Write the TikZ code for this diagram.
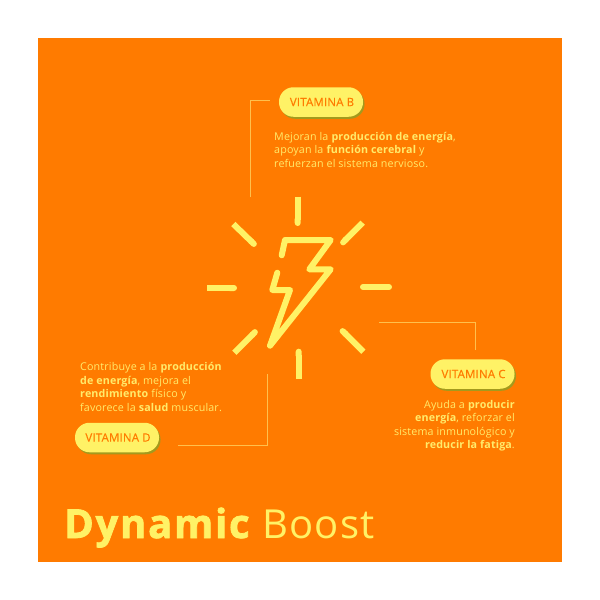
\documentclass[tikz,border=0pt]{standalone}
\usepackage{fontspec}
\setmainfont{Open Sans}[LetterSpace=1.5]
\newfontfamily\titlefont{Open Sans}[LetterSpace=2.6,BoldFeatures={FakeBold=1.8,LetterSpace=4.4}]
\newfontfamily\pillfont{Open Sans}[LetterSpace=1.5,FakeBold=0.4]
\usetikzlibrary{arrows.meta,positioning}
\definecolor{bgorange}{HTML}{FF7B00}
\definecolor{sunyellow}{HTML}{FFF266}
\definecolor{pillshadow}{HTML}{A39A1E}
\definecolor{bodyyellow}{HTML}{FFEB6B}
\definecolor{wireyellow}{HTML}{FFC04D}
\tikzset{
  ray/.style={draw=sunyellow,line width=6pt},
  bolt/.style={draw=sunyellow,line width=6pt,line join=round,line cap=round},
  wire/.style={draw=wireyellow,line width=0.8pt},
  pill/.style={fill=sunyellow,rounded corners=14.5pt,minimum width=84pt,minimum height=29.5pt,inner sep=0pt,text=bgorange,font=\pillfont\fontsize{11.5}{13}\selectfont},
  shade/.style={fill=pillshadow,rounded corners=14.5pt,minimum width=84pt,minimum height=29.5pt,inner sep=0pt},
  body/.style={text=bodyyellow,inner sep=0pt,font=\fontsize{10.7}{13.4}\selectfont},
}
\def\drawPill#1#2#3#4{
\node[shade] (#1s) at (#3+1.5,#4+2) {};
\node[pill] (#1) at (#3,#4) {\hspace*{2pt}#2};
}
\begin{document}
\begin{tikzpicture}[x=1pt,y=-1pt]
  \useasboundingbox (0,0) rectangle (600,600);
  \fill[white] (0,0) rectangle (600,600);
  \fill[bgorange] (38,38) rectangle (562,562);

  \draw[ray,-{Round Cap[]}] (297.7,196.7) -- (297.7,226);
  \draw[ray,-{Round Cap[]}] (207.3,288) -- (237,288);
  \draw[ray,-{Round Cap[]}] (298.7,379) -- (298.7,348.7);
  \draw[ray,-{Round Cap[]}] (233.3,224) -- (256,246);
  \draw[ray,-{Round Cap[]}] (362.7,222.7) -- (341,244.5);
  \draw[ray,-{Round Cap[]}] (234.3,352.7) -- (257,330);
  \draw[ray,-{Round Cap[]}] (363.3,351.7) -- (340.5,329);
  \draw[ray,line cap=round] (363,287) -- (389,287);

  \draw[bolt] (281.7,255.3) -- (285,240) -- (330.7,240) -- (309.3,269.3) -- (330.7,269.3)
    -- (270,345.7) -- (290,290) -- (272.3,290) -- (277.3,272.7);

  \drawPill{vitB}{VITAMINA B}{321}{102}
  \drawPill{vitC}{VITAMINA C}{472.5}{374}
  \drawPill{vitD}{VITAMINA D}{117}{437.5}

  \coordinate (wireB) at (250.5,197);
  \coordinate (wireBend) at (270,100.5);
  \coordinate (wireC) at (379,322.5);
  \coordinate (wireCend) at (475.5,350);
  \coordinate (wireD) at (267.5,374);
  \coordinate (wireDend) at (178,445.5);
  \draw[wire] (wireB) |- (wireBend);
  \draw[wire] (wireC) -| (wireCend);
  \draw[wire] (wireD) |- (wireDend);

  \node[body,anchor=north west,align=left] (textB) at (274,132)
    {Mejoran la \textbf{producción de energía},\\apoyan la \textbf{función cerebral} y\\refuerzan el sistema nervioso.};
  \node[body,anchor=north west,align=left] (textD) at (80,362.5)
    {Contribuye a la \textbf{producción}\\\textbf{de energía}, mejora el\\\textbf{rendimiento} físico y\\favorece la \textbf{salud} muscular.};
  \node[body,anchor=north east,align=right] (textC) at (515,400)
    {Ayuda a \textbf{producir}\\\textbf{energía}, reforzar el\\sistema inmunológico y\\\textbf{reducir la fatiga}.};

  \node[inner sep=0pt,anchor=base west,text=sunyellow,font=\titlefont\fontsize{40}{44}\selectfont] (title) at (64,538)
    {\textbf{Dynamic} Boost};
\end{tikzpicture}
\end{document}
